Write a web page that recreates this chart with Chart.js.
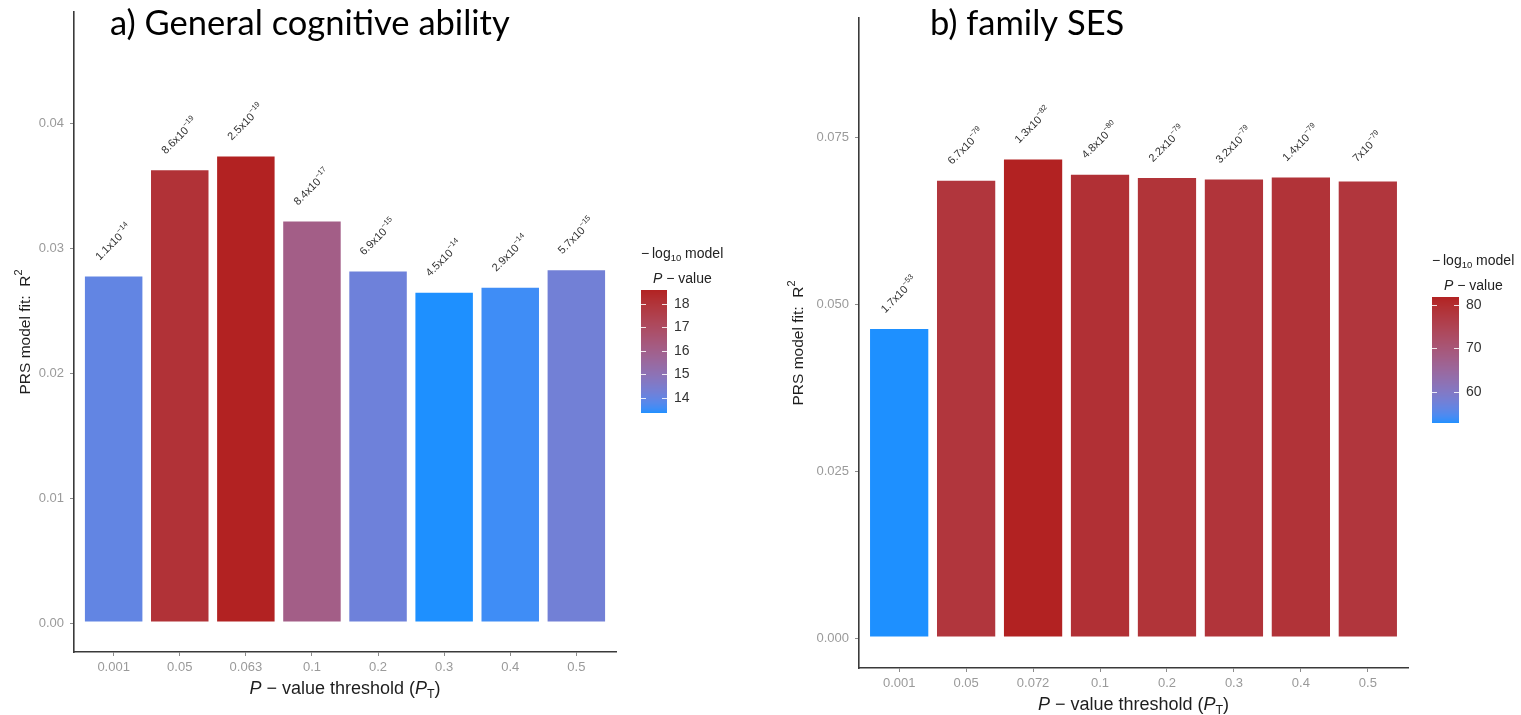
<!DOCTYPE html>
<html>
<head>
<meta charset="utf-8">
<script src="https://cdn.jsdelivr.net/npm/chart.js@4.4.1/dist/chart.umd.min.js"></script>
<style>
  html, body { margin: 0; padding: 0; background: #ffffff; }
  #wrap { position: relative; width: 1521px; height: 715px; overflow: hidden; }
  .pane { position: absolute; top: 0; height: 715px; }
  #paneA { left: 0; width: 760px; }
  #paneB { left: 760px; width: 761px; }
  canvas { display: block; }
</style>
</head>
<body>
<div id="wrap">
  <div class="pane" id="paneA"><canvas id="chartA" width="760" height="715"></canvas></div>
  <div class="pane" id="paneB"><canvas id="chartB" width="761" height="715"></canvas></div>
</div>
<script>
// ---------- data: general cognitive ability ----------
const thresholdsA = ['0.001', '0.05', '0.063', '0.1', '0.2', '0.3', '0.4', '0.5'];
const r2A = [0.0278, 0.0363, 0.0374, 0.0322, 0.0282, 0.0265, 0.0269, 0.0283];
const pMantA = ['1.1', '8.6', '2.5', '8.4', '6.9', '4.5', '2.9', '5.7'];
const pExpA = [14, 19, 19, 17, 15, 14, 14, 15];
const yTicksA = [0, 0.01, 0.02, 0.03, 0.04];
const legendTicksA = [14, 15, 16, 17, 18];

// ---------- data: family SES ----------
const thresholdsB = ['0.001', '0.05', '0.072', '0.1', '0.2', '0.3', '0.4', '0.5'];
const r2B = [0.0464, 0.0686, 0.0718, 0.0695, 0.0690, 0.0688, 0.0691, 0.0685];
const pMantB = ['1.7', '6.7', '1.3', '4.8', '2.2', '3.2', '1.4', '7'];
const pExpB = [53, 79, 82, 80, 79, 79, 79, 79];
const yTicksB = [0, 0.025, 0.05, 0.075];
const legendTicksB = [60, 70, 80];

// ---------- colour gradient (interpolated in CIELAB, dodgerblue -> firebrick) ----------
const LOW_RGB = [30, 144, 255];
const HIGH_RGB = [178, 34, 34];
const WHITE = [0.95047, 1.0, 1.08883];

function toLinear(c) { c /= 255; return c <= 0.04045 ? c / 12.92 : Math.pow((c + 0.055) / 1.055, 2.4); }
function fromLinear(c) { const v = c <= 0.0031308 ? 12.92 * c : 1.055 * Math.pow(c, 1 / 2.4) - 0.055; return Math.round(Math.min(1, Math.max(0, v)) * 255); }
function labF(t) { return t > 0.008856 ? Math.cbrt(t) : 7.787 * t + 16 / 116; }
function labFinv(t) { return t > 0.206893 ? t * t * t : (t - 16 / 116) / 7.787; }
function rgbToLab(rgb) {
  const r = toLinear(rgb[0]), g = toLinear(rgb[1]), b = toLinear(rgb[2]);
  const X = (0.4124564 * r + 0.3575761 * g + 0.1804375 * b) / WHITE[0];
  const Y = (0.2126729 * r + 0.7151522 * g + 0.0721750 * b) / WHITE[1];
  const Z = (0.0193339 * r + 0.1191920 * g + 0.9503041 * b) / WHITE[2];
  const fx = labF(X), fy = labF(Y), fz = labF(Z);
  return [116 * fy - 16, 500 * (fx - fy), 200 * (fy - fz)];
}
function labToRgb(lab) {
  const fy = (lab[0] + 16) / 116, fx = fy + lab[1] / 500, fz = fy - lab[2] / 200;
  const X = labFinv(fx) * WHITE[0], Y = labFinv(fy) * WHITE[1], Z = labFinv(fz) * WHITE[2];
  const r = 3.2404542 * X - 1.5371385 * Y - 0.4985314 * Z;
  const g = -0.9692660 * X + 1.8760108 * Y + 0.0415560 * Z;
  const b = 0.0556434 * X - 0.2040259 * Y + 1.0572252 * Z;
  return [fromLinear(r), fromLinear(g), fromLinear(b)];
}
const LOW_LAB = rgbToLab(LOW_RGB), HIGH_LAB = rgbToLab(HIGH_RGB);
function rampColor(t) {
  t = Math.min(1, Math.max(0, t));
  const lab = LOW_LAB.map((v, k) => v + (HIGH_LAB[k] - v) * t);
  const c = labToRgb(lab);
  return 'rgb(' + c[0] + ',' + c[1] + ',' + c[2] + ')';
}
function negLog10(mant, exp) { return exp - Math.log10(parseFloat(mant)); }

// ---------- text helpers ----------
const SANS = "'Liberation Sans', Arial, sans-serif";

function drawRuns(ctx, runs, x, y, align) {
  // runs: [{t, size, italic, dy}]
  const widths = runs.map(r => { ctx.font = (r.italic ? 'italic ' : '') + r.size + 'px ' + SANS; return ctx.measureText(r.t).width; });
  const total = widths.reduce((s, w) => s + w, 0);
  let cx = align === 'center' ? x - total / 2 : x;
  runs.forEach((r, i) => {
    ctx.font = (r.italic ? 'italic ' : '') + r.size + 'px ' + SANS;
    ctx.fillText(r.t, cx, y + (r.dy || 0));
    cx += widths[i];
  });
  return total;
}

function drawSciLabel(ctx, mant, exp) {
  ctx.fillStyle = '#303030';
  ctx.textBaseline = 'middle';
  ctx.textAlign = 'left';
  drawRuns(ctx, [
    { t: mant + 'x10', size: 11 },
    { t: '\u2212' + exp, size: 7.5, dy: -4.5 }
  ], 0, 0, 'center');
}

function drawLegend(ctx, L, vmin, vmax, ticks) {
  ctx.save();
  ctx.fillStyle = '#222222';
  ctx.textBaseline = 'middle';
  ctx.textAlign = 'left';
  drawRuns(ctx, [
    { t: '\u2212\u2009log', size: 14 },
    { t: '10', size: 9.5, dy: 4 },
    { t: ' model', size: 14 }
  ], L.x, L.t1y, 'left');
  drawRuns(ctx, [
    { t: 'P', size: 14, italic: true },
    { t: ' \u2212 value', size: 14 }
  ], L.x + 12, L.t2y, 'left');

  // colour bar
  for (let k = 0; k < L.h; k++) {
    const v = vmax - (k + 0.5) / L.h * (vmax - vmin);
    ctx.fillStyle = rampColor((v - vmin) / (vmax - vmin));
    ctx.fillRect(L.x, L.y + k, L.w, 1);
  }
  // ticks and labels
  ctx.strokeStyle = 'rgba(255,255,255,0.85)';
  ctx.lineWidth = 1;
  ctx.font = '14px ' + SANS;
  ticks.forEach(t => {
    const y = Math.round(L.y + (vmax - t) / (vmax - vmin) * L.h) + 0.5;
    ctx.beginPath();
    ctx.moveTo(L.x, y); ctx.lineTo(L.x + 5, y);
    ctx.moveTo(L.x + L.w - 5, y); ctx.lineTo(L.x + L.w, y);
    ctx.stroke();
    ctx.fillStyle = '#333333';
    ctx.fillText(String(t), L.x + L.w + 7, y);
  });
  ctx.restore();
}

function decorPlugin(spec, vmin, vmax) {
  return {
    id: 'decor' + spec.key,
    afterDatasetsDraw(chart) {
      const ctx = chart.ctx;
      const meta = chart.getDatasetMeta(0);
      meta.data.forEach((bar, i) => {
        ctx.save();
        ctx.translate(bar.x, bar.y - 33);
        ctx.rotate(-Math.PI / 4);
        drawSciLabel(ctx, spec.mant[i], spec.exp[i]);
        ctx.restore();
      });
    },
    afterDraw(chart) {
      const ctx = chart.ctx;
      const a = chart.chartArea;
      ctx.save();
      // panel heading
      ctx.fillStyle = '#000000';
      ctx.textAlign = 'left';
      ctx.textBaseline = 'alphabetic';
      ctx.font = '34.5px Lato, ' + SANS;
      ctx.fillText(spec.title, spec.titleX, 35);

      // x axis title
      ctx.fillStyle = '#1e1e1e';
      drawRuns(ctx, [
        { t: 'P', size: 18, italic: true },
        { t: ' \u2212 value threshold (', size: 18 },
        { t: 'P', size: 18, italic: true },
        { t: 'T', size: 12.5, dy: 4 },
        { t: ')', size: 18 }
      ], (a.left + a.right) / 2, spec.xTitleY, 'center');

      // y axis title
      ctx.translate(spec.yTitleX, (a.top + a.bottom) / 2);
      ctx.rotate(-Math.PI / 2);
      ctx.textBaseline = 'middle';
      drawRuns(ctx, [
        { t: 'PRS model fit:  R', size: 15.5 },
        { t: '2', size: 11, dy: -7 }
      ], 0, 0, 'center');
      ctx.restore();

      drawLegend(ctx, spec.legend, vmin, vmax, spec.legendTicks);
    }
  };
}

function makePanel(canvasId, spec) {
  const H = 715;
  const nl = spec.mant.map((m, i) => negLog10(m, spec.exp[i]));
  const vmin = Math.min(...nl), vmax = Math.max(...nl);
  const colors = nl.map(v => rampColor((v - vmin) / (vmax - vmin)));
  const tickFont = { family: SANS, size: 13 };
  const axisGrid = { drawOnChartArea: false, drawTicks: true, tickLength: 4, tickColor: '#8c8c8c', tickWidth: 1, offset: false };
  const axisBorder = { display: true, color: '#3a3a3a', width: 1.6 };

  return new Chart(document.getElementById(canvasId), {
    type: 'bar',
    data: {
      datasets: [{
        data: spec.r2.map((v, i) => ({ x: i + 1, y: v })),
        backgroundColor: colors,
        borderColor: 'rgba(255,255,255,0.5)',
        borderWidth: 1,
        borderSkipped: false,
        barPercentage: 0.9,
        categoryPercentage: 1.0
      }]
    },
    options: {
      responsive: false,
      animation: false,
      events: [],
      layout: { padding: { left: 0, top: spec.area.top, right: spec.width - spec.area.right, bottom: 0 } },
      plugins: { legend: { display: false }, tooltip: { enabled: false } },
      scales: {
        x: {
          type: 'linear',
          min: 0.4,
          max: spec.labels.length + 0.6,
          offset: false,
          bounds: 'data',
          afterBuildTicks: s => { s.ticks = spec.labels.map((_, i) => ({ value: i + 1 })); },
          afterFit: s => { s.height = H - spec.area.bottom; s.paddingLeft = 0; s.paddingRight = 0; },
          ticks: {
            autoSkip: false, maxRotation: 0, minRotation: 0, padding: 4,
            color: '#9a9a9a', font: tickFont,
            callback: v => spec.labels[Math.round(v) - 1]
          },
          grid: axisGrid,
          border: axisBorder
        },
        y: {
          type: 'linear',
          min: spec.yMin,
          max: spec.yMax,
          bounds: 'data',
          afterBuildTicks: s => { s.ticks = spec.yTicks.map(v => ({ value: v })); },
          afterFit: s => { s.width = spec.area.left; s.paddingTop = 0; s.paddingBottom = 0; },
          ticks: {
            padding: 6, color: '#9a9a9a', font: tickFont,
            callback: v => Number(v).toFixed(spec.decimals)
          },
          grid: axisGrid,
          border: axisBorder
        }
      }
    },
    plugins: [decorPlugin(spec, vmin, vmax)]
  });
}

makePanel('chartA', {
  key: 'A',
  width: 760,
  area: { left: 74, right: 616, top: 12, bottom: 652 },
  yMin: -0.00232, yMax: 0.04888, decimals: 2,
  labels: thresholdsA, r2: r2A, mant: pMantA, exp: pExpA, yTicks: yTicksA,
  legendTicks: legendTicksA,
  title: 'a) General cognitive ability', titleX: 110,
  xTitleY: 694, yTitleX: 26,
  legend: { x: 641, y: 290, w: 26, h: 123, t1y: 254, t2y: 279 }
});

makePanel('chartB', {
  key: 'B',
  width: 761,
  area: { left: 99, right: 648, top: 18, bottom: 668 },
  yMin: -0.00449, yMax: 0.09282, decimals: 3,
  labels: thresholdsB, r2: r2B, mant: pMantB, exp: pExpB, yTicks: yTicksB,
  legendTicks: legendTicksB,
  title: 'b) family SES', titleX: 170,
  xTitleY: 710, yTitleX: 39,
  legend: { x: 672, y: 297, w: 27, h: 126, t1y: 261, t2y: 286 }
});
</script>
</body>
</html>
